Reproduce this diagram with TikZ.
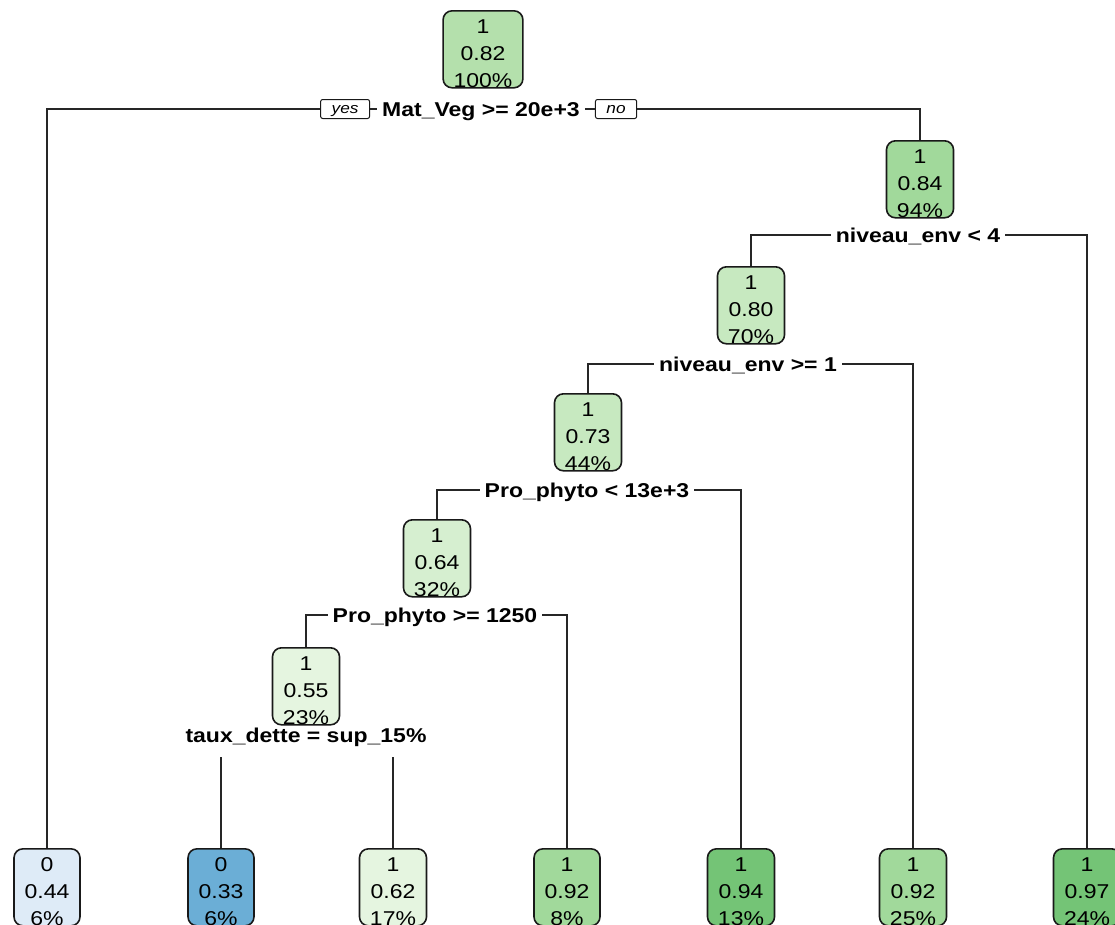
\documentclass[tikz,border=0pt]{standalone}
\usepackage{fontspec}
\setmainfont{Liberation Sans}[FakeStretch=1.15]
\usetikzlibrary{positioning}

\definecolor{gr1}{HTML}{E5F5E0}
\definecolor{gr2}{HTML}{D6EFD0}
\definecolor{gr3}{HTML}{C7E9C0}
\definecolor{gr4}{HTML}{B4E0AC}
\definecolor{gr5}{HTML}{A1D99B}
\definecolor{gr6}{HTML}{74C476}
\definecolor{bl1}{HTML}{DEEBF7}
\definecolor{bl2}{HTML}{6BAED6}

\newcommand{\boxtxt}[3]{\begin{tabular}[b]{@{}c@{}}#1\\#2\\#3\end{tabular}}

\begin{document}
\begin{tikzpicture}[x=1pt, y=-1pt, font=\fontsize{20}{27}\selectfont]
  \tikzset{
    box/.style={draw=black!90, line width=1.6pt, rounded corners=9pt, anchor=north,
      inner xsep=10.5pt, inner ysep=0pt, minimum width=66pt, text height=77pt, text depth=0pt},
    split/.style={font=\fontsize{20}{27}\selectfont\bfseries, inner xsep=5pt, inner ysep=4pt,
      text height=14.3pt, text depth=0pt},
    tag/.style={draw=black!90, line width=1pt, rounded corners=2pt, font=\fontsize{15}{18}\selectfont\itshape,
      inner xsep=11pt, inner ysep=2.5pt, text height=11pt, text depth=3pt},
    edge/.style={line width=1.9pt, black!85}
  }
  \useasboundingbox (0,0) rectangle (1115,924);

  % Racine
  \node[box, fill=gr4] (n1) at (483,10) {\boxtxt{1}{0.82}{100\%}};
  \node[split] (s1) at (481,109) {Mat\_Veg >= 20e+3};
  \node[tag, left=7pt of s1] (yes) {yes};
  \node[tag, right=10pt of s1] (no) {no};

  % Noeuds internes
  \node[box, fill=gr5] (n2) at (920,140) {\boxtxt{1}{0.84}{94\%}};
  \node[split] (s2) at (918,235) {niveau\_env < 4};
  \node[box, fill=gr3] (n3) at (751,266) {\boxtxt{1}{0.80}{70\%}};
  \node[split] (s3) at (748,364) {niveau\_env >= 1};
  \node[box, fill=gr3] (n4) at (588,393) {\boxtxt{1}{0.73}{44\%}};
  \node[split] (s4) at (587,490) {Pro\_phyto < 13e+3};
  \node[box, fill=gr2] (n5) at (437,519) {\boxtxt{1}{0.64}{32\%}};
  \node[split] (s5) at (435,615) {Pro\_phyto >= 1250};
  \node[box, fill=gr1] (n6) at (306,647) {\boxtxt{1}{0.55}{23\%}};
  \node[split, inner ysep=15pt] (s6) at (306,735) {taux\_dette = sup\_15\%};

  % Feuilles
  \node[box, fill=bl1] (l1) at (47,848) {\boxtxt{0}{0.44}{6\%}};
  \node[box, fill=bl2] (l2) at (221,848) {\boxtxt{0}{0.33}{6\%}};
  \node[box, fill=gr1] (l3) at (393,848) {\boxtxt{1}{0.62}{17\%}};
  \node[box, fill=gr5] (l4) at (567,848) {\boxtxt{1}{0.92}{8\%}};
  \node[box, fill=gr6] (l5) at (741,848) {\boxtxt{1}{0.94}{13\%}};
  \node[box, fill=gr5] (l6) at (913,848) {\boxtxt{1}{0.92}{25\%}};
  \node[box, fill=gr6] (l7) at (1087,848) {\boxtxt{1}{0.97}{24\%}};

  % Branches
  \draw[edge] (l1.north) |- (yes);
  \draw[edge] (yes) -- (s1);
  \draw[edge] (s1) -- (no);
  \draw[edge] (no) -| (n2.north);
  \draw[edge] (n3.north) |- (s2);
  \draw[edge] (s2) -| (l7.north);
  \draw[edge] (n4.north) |- (s3);
  \draw[edge] (s3) -| (l6.north);
  \draw[edge] (n5.north) |- (s4);
  \draw[edge] (s4) -| (l5.north);
  \draw[edge] (n6.north) |- (s5);
  \draw[edge] (s5) -| (l4.north);
  \draw[edge] (s6.south -| l2.north) -- (l2.north);
  \draw[edge] (s6.south -| l3.north) -- (l3.north);
\end{tikzpicture}
\end{document}
